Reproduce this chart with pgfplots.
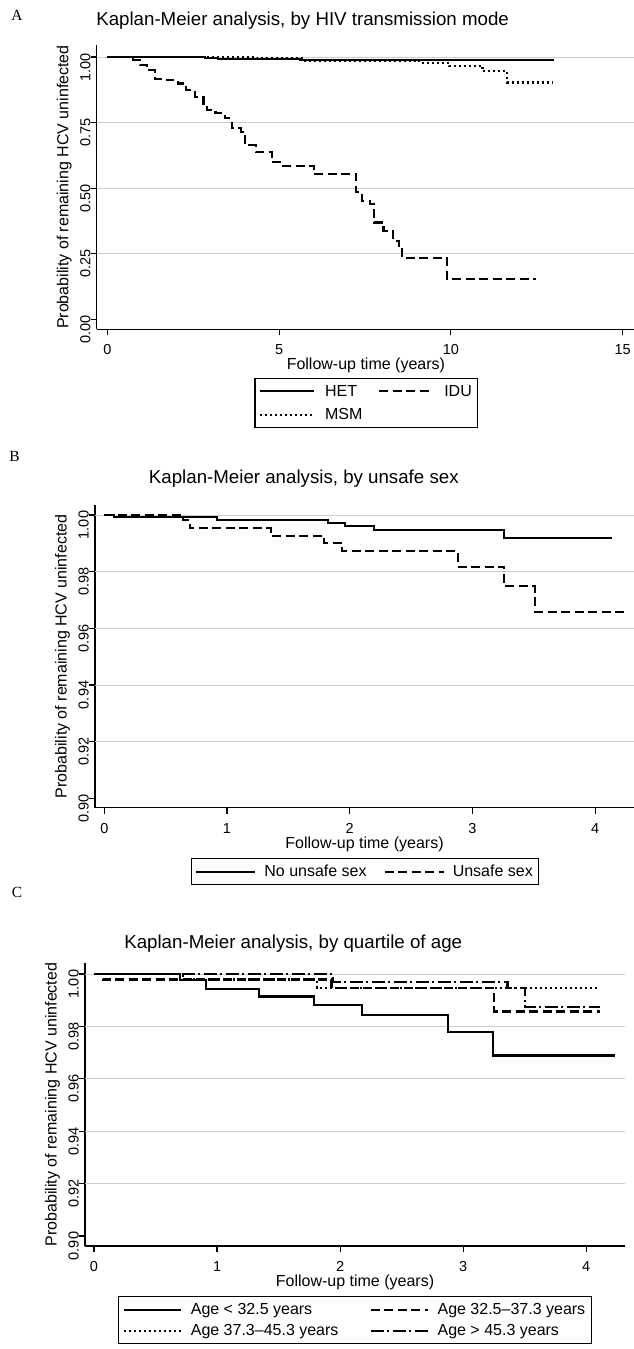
\documentclass[border=0pt]{standalone}
\usepackage{fontspec}
\setmainfont{Liberation Sans}
\newfontfamily\letterfont{Liberation Serif}
\usepackage{pgfplots}
\pgfplotsset{compat=1.18}
\definecolor{gridgray}{RGB}{205,205,205}
\pgfplotsset{
  km/.style={
    scale only axis,
    anchor=south west,
    axis x line*=bottom,
    axis y line*=left,
    axis line style={line width=1.2pt, black},
    tick align=outside,
    major tick length=6pt,
    tick style={line width=1.1pt, black},
    /pgf/number format/assume math mode=true,
    tick label style={font=\fontsize{14.5}{17}\selectfont},
    yticklabel style={rotate=90, anchor=south, inner sep=0pt, xshift=-10pt},
    y tick label style={/pgf/number format/fixed, /pgf/number format/fixed zerofill, /pgf/number format/precision=2},
    xticklabel style={anchor=base, inner sep=0pt, yshift=-19.7pt},
    label style={font=\fontsize{16}{19}\selectfont},
    xlabel={Follow-up time (years)},
    ylabel={Probability of remaining HCV uninfected},
    title style={font=\fontsize{18.7}{22}\selectfont, anchor=base},
    extra y tick labels={},
    extra y tick style={grid=major, major tick length=0pt},
    major grid style={gridgray, line width=0.7pt},
    legend cell align=left,
    legend style={font=\fontsize{16}{19}\selectfont, draw=black, line width=1.1pt, anchor=north, inner xsep=4pt, inner ysep=4.5pt},
  },
  kmsolid/.style={black, solid, line width=2.1pt, const plot, mark=none},
  kmdashed/.style={kmsolid, dash pattern=on 9pt off 4.5pt},
  kmdotted/.style={kmsolid, dash pattern=on 2pt off 3pt},
  kmdashdot/.style={kmsolid, dash pattern=on 13pt off 3.5pt on 2pt off 3.5pt},
}
\begin{document}
\begin{tikzpicture}
\path[use as bounding box] (0pt,0pt) rectangle (634pt,1349pt);
% panel letters
\node[font=\letterfont\fontsize{15.5}{18}\selectfont] at (17pt,1334pt) {A};
\node[font=\letterfont\fontsize{15.5}{18}\selectfont] at (14.5pt,892.3pt) {B};
\node[font=\letterfont\fontsize{15.5}{18}\selectfont] at (17pt,457pt) {C};
% ---------------- Panel A
\begin{axis}[km,
  at={(96.7pt,1019.7pt)}, width=537.3pt, height=284.3pt,
  xmin=-0.309, xmax=15.33, ymin=-0.038, ymax=1.046,
  xtick={0,5,10,15}, ytick={0,0.25,0.5,0.75,1},
  extra y ticks={0.25,0.5,0.75,1},
  title={Kaplan-Meier analysis, by HIV transmission mode},
  title style={at={(axis description cs:0.3832,1.0468)}},
  xlabel style={at={(axis description cs:0.501,-0.1407)}, anchor=base},
  ylabel style={at={(axis description cs:-0.0606,0.5)}, anchor=center},
  legend columns=2,
  legend image code/.code={\draw[#1] (0pt,0pt) -- (54pt,0pt);},
  legend style={at={(axis description cs:0.502,-0.1713)},
    /tikz/every odd column/.append style={column sep=8pt},
    /tikz/every even column/.append style={column sep=13.7pt}, row sep=7pt},
]
\addplot[kmsolid] coordinates {(0,1) (2.85,0.997) (3.23,0.993) (5.62,0.988) (13.0,0.988)};
\addlegendentry{HET}
\addplot[kmdashed] coordinates {(0,1.000) (0.75,0.988) (0.95,0.969) (1.15,0.950) (1.38,0.918) (1.73,0.912) (2.05,0.899) (2.30,0.874) (2.55,0.848) (2.80,0.823) (2.90,0.797) (3.15,0.785) (3.42,0.766) (3.62,0.728) (3.90,0.714) (4.02,0.663) (4.32,0.637) (4.79,0.599) (5.12,0.586) (6.01,0.554) (7.25,0.484) (7.40,0.452) (7.65,0.440) (7.76,0.369) (8.04,0.337) (8.32,0.299) (8.50,0.268) (8.58,0.233) (9.89,0.154) (12.47,0.154)};
\addlegendentry{IDU}
\addplot[kmdotted] coordinates {(0,1) (4.35,0.996) (5.67,0.986) (9.08,0.979) (9.94,0.967) (10.92,0.946) (11.64,0.903) (12.98,0.903)};
\addlegendentry{MSM}
\end{axis}
% ---------------- Panel B
\begin{axis}[km,
  at={(95pt,541.3pt)}, width=539pt, height=302.7pt,
  xmin=-0.0758, xmax=4.317, ymin=0.89668, ymax=1.00353,
  xtick={0,1,2,3,4}, ytick={0.9,0.92,0.94,0.96,0.98,1},
  extra y ticks={0.92,0.94,0.96,0.98,1},
  title={Kaplan-Meier analysis, by unsafe sex},
  title style={at={(axis description cs:0.3874,1.0519)}},
  xlabel style={at={(axis description cs:0.5,-0.1341)}, anchor=base},
  ylabel style={at={(axis description cs:-0.0602,0.5)}, anchor=center},
  legend columns=2,
  legend image code/.code={\draw[#1] (0pt,0pt) -- (59pt,0pt);},
  legend style={at={(axis description cs:0.501,-0.1662)},
    /tikz/every odd column/.append style={column sep=6pt},
    /tikz/every even column/.append style={column sep=15pt}},
]
\addplot[kmsolid] coordinates {(0,1) (0.08,0.9992) (0.92,0.9981) (1.82,0.9971) (1.96,0.9961) (2.20,0.9948) (3.26,0.9919) (4.14,0.9919)};
\addlegendentry{No unsafe sex}
\addplot[kmdashed] coordinates {(0,1) (0.64,0.9982) (0.70,0.9953) (1.36,0.9925) (1.79,0.9901) (1.94,0.9872) (2.88,0.9818) (3.26,0.9748) (3.51,0.9659) (4.24,0.9659)};
\addlegendentry{Unsafe sex}
\end{axis}
% ---------------- Panel C
\begin{axis}[km,
  at={(85pt,103pt)}, width=540pt, height=282.7pt,
  xmin=-0.073, xmax=4.315, ymin=0.89618, ymax=1.00408,
  xtick={0,1,2,3,4}, ytick={0.9,0.92,0.94,0.96,0.98,1},
  extra y ticks={0.92,0.94,0.96,0.98,1},
  title={Kaplan-Meier analysis, by quartile of age},
  title style={at={(axis description cs:0.3856,1.0318)}},
  xlabel style={at={(axis description cs:0.5,-0.1415)}, anchor=base},
  ylabel style={at={(axis description cs:-0.0601,0.5)}, anchor=center},
  legend columns=2,
  legend image code/.code={\draw[#1] (0pt,0pt) -- (57pt,0pt);},
  legend style={at={(axis description cs:0.5,-0.1769)}, inner ysep=5pt,
    /tikz/every odd column/.append style={column sep=7pt},
    /tikz/every even column/.append style={column sep=29pt}, row sep=4pt},
]
\addplot[kmsolid] coordinates {(0,1) (0.70,0.9977) (0.91,0.9944) (1.34,0.9914) (1.79,0.9881) (2.18,0.9843) (2.88,0.9777) (3.24,0.9689) (4.23,0.9689)};
\addlegendentry{Age < 32.5 years}
\addplot[kmdashed] coordinates {(0,1) (0.07,0.9979) (1.93,0.9946) (3.25,0.9857) (4.11,0.9857)};
\addlegendentry{Age 32.5–37.3 years}
\addplot[kmdotted] coordinates {(0,1) (0.72,0.9979) (1.81,0.9946) (4.11,0.9946)};
\addlegendentry{Age 37.3–45.3 years}
\addplot[kmdashdot] coordinates {(0,1) (1.94,0.9969) (3.36,0.9946) (3.50,0.9873) (4.11,0.9873)};
\addlegendentry{Age > 45.3 years}
\end{axis}
\end{tikzpicture}
\end{document}
